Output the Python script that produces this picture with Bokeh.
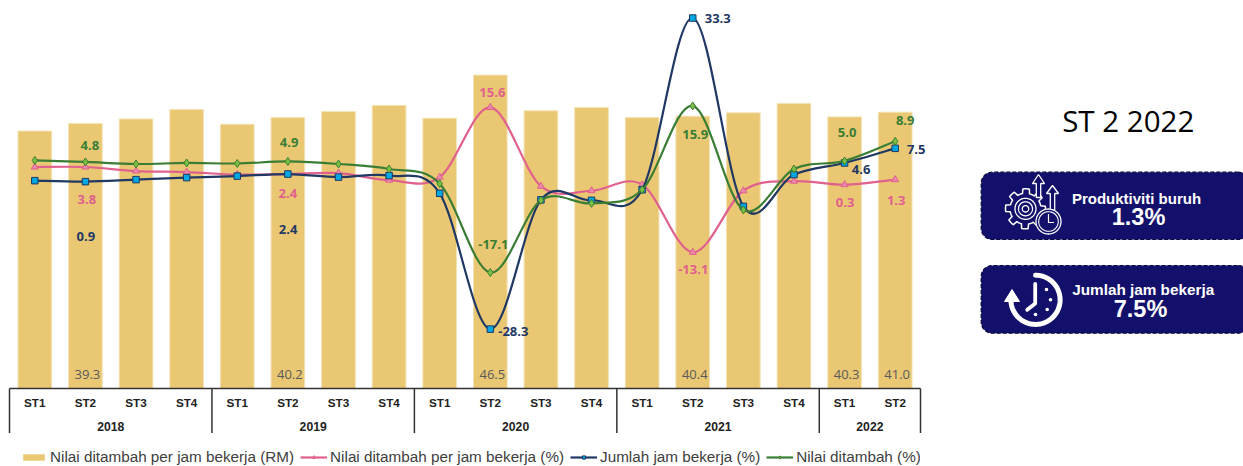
import numpy as np
from bokeh.core.properties import value
from bokeh.embed import file_html
from bokeh.layouts import column, row
from bokeh.models import ColumnDataSource, FactorRange, Legend, LegendItem, Range1d
from bokeh.plotting import figure
from bokeh.resources import INLINE

years = ["2018"] * 4 + ["2019"] * 4 + ["2020"] * 4 + ["2021"] * 4 + ["2022"] * 2
quarters = ["ST1", "ST2", "ST3", "ST4"] * 4 + ["ST1", "ST2"]
rm_value = [38.2, 39.3, 40.0, 41.4, 39.2, 40.2, 41.1, 42.0, 40.1, 46.5, 41.2, 41.7, 40.2, 40.4, 40.9, 42.3, 40.3, 41.0]
productivity = [3.8, 3.8, 3.0, 2.8, 2.3, 2.4, 2.6, 1.2, 1.8, 15.6, 0.0, -0.9, 0.3, -13.1, -0.9, 1.0, 0.3, 1.3]
hours = [1.1, 0.9, 1.3, 1.7, 2.0, 2.4, 1.8, 2.1, -1.4, -28.3, -2.7, -2.8, -0.7, 33.3, -4.0, 2.3, 4.6, 7.5]
added = [5.1, 4.8, 4.4, 4.6, 4.5, 4.9, 4.4, 3.4, 0.5, -17.1, -2.8, -3.4, -0.7, 15.9, -4.7, 3.4, 5.0, 8.9]

labelled = [1, 5, 9, 13, 16, 17]
group_edges = [0, 4, 8, 12, 16, 18]
group_names = ["2018", "2019", "2020", "2021", "2022"]

prod_off = [(1.4, 32), (0, 19.4), (2, -15), (0.5, 17), (0.5, 18), (1, 21)]
hours_off = [(0.4, 54.5), (0.3, 55.4), (23, 2.4), (25, 0.5), (16.5, 6.5), (21, 1)]
added_off = [(4.4, -16.5), (1.3, -19), (3, -28), (2.5, 28.6), (2.5, -28.5), (10, -20.8)]

GOLD, PINK, NAVY, GREEN = "#EAC873", "#E0608E", "#1F3864", "#3A7D34"
PINK_FILL, NAVY_FILL, GREEN_FILL = "#E889AE", "#00A7E1", "#7CC142"
BASE, AXIS_H, PAGE_H, SPLIT = 388, 45, 466, 936

factors = list(zip(years, quarters))
x_range = FactorRange(*factors, factor_padding=0, group_padding=0, subgroup_padding=0, range_padding=0)

p = figure(width=SPLIT, height=BASE + AXIS_H, x_range=x_range, y_range=Range1d(0, BASE / 6.74),
           output_backend="svg", toolbar_location=None, min_border_left=9, min_border_right=16,
           min_border_top=0, min_border_bottom=AXIS_H, outline_line_color=None)
p.extra_y_ranges["pct"] = Range1d((185.7 - BASE) / 5.05, 185.7 / 5.05)
p.grid.visible = False
p.yaxis.visible = False
ax = p.xaxis[0]
ax.axis_line_color = "#333333"
ax.axis_line_width = 1.5
ax.major_tick_line_color = None
ax.minor_tick_line_color = None
ax.major_label_text_font = "Liberation Sans"
ax.major_label_text_font_size = "11.7px"
ax.major_label_text_font_style = "bold"
ax.major_label_text_color = "#222222"
ax.major_label_standoff = 1
ax.group_text_color = None
ax.separator_line_color = None

p.vbar(x=factors, top=rm_value, width=0.665, fill_color=GOLD, line_color="#F3E2B4", line_width=1)


def bezier(values):
    xs = np.arange(len(values)) + 0.5
    ys = np.array(values, dtype=float)
    n = len(ys)
    prev_i = np.maximum(np.arange(n) - 1, 0)
    next_i = np.minimum(np.arange(n) + 1, n - 1)
    tx = (xs[next_i] - xs[prev_i]) / 6
    ty = (ys[next_i] - ys[prev_i]) / 6
    return dict(x0=xs[:-1], y0=ys[:-1], x1=xs[1:], y1=ys[1:],
                cx0=xs[:-1] + tx[:-1], cy0=ys[:-1] + ty[:-1],
                cx1=xs[1:] - tx[1:], cy1=ys[1:] - ty[1:])


def series(values, colour, marker, size, fill):
    p.bezier(x0="x0", y0="y0", x1="x1", y1="y1", cx0="cx0", cy0="cy0", cx1="cx1", cy1="cy1",
             source=ColumnDataSource(bezier(values)), line_color=colour, line_width=2.2, y_range_name="pct")
    p.scatter(x=factors, y=values, marker=marker, size=size, fill_color=fill, line_color=colour,
              line_width=1, y_range_name="pct")


series(productivity, PINK, "triangle", 7, PINK_FILL)
series(hours, NAVY, "square", 6.5, NAVY_FILL)
series(added, GREEN, "diamond", 8, GREEN_FILL)


def labels(vals, offs, colour):
    p.text(x=[factors[i] for i in labelled], y=[vals[i] for i in labelled], text=[f"{vals[i]:.1f}" for i in labelled],
           x_offset=[o[0] for o in offs], y_offset=[o[1] for o in offs], text_color=colour,
           text_font=value("Open Sans"), text_font_size="13px", text_font_style="bold",
           text_align="center", text_baseline="middle", y_range_name="pct", level="overlay")


labels(productivity, prod_off, PINK)
labels(hours, hours_off, NAVY)
labels(added, added_off, GREEN)
p.text(x=[factors[i] for i in labelled], y=[0] * len(labelled),
       text=[f"{rm_value[i]:.1f}" for i in labelled], x_offset=2, y_offset=-14, text_color="#595959",
       text_font=value("Open Sans"), text_font_size="13px", text_align="center", text_baseline="middle")

p.segment(x0=group_edges, x1=group_edges, y0=[0] * len(group_edges), y1=[-AXIS_H / 6.74] * len(group_edges),
          line_color="#333333", line_width=1.5, level="overlay")
p.text(x=[(a + b) / 2 for a, b in zip(group_edges[:-1], group_edges[1:])], y=[0] * len(group_names), text=group_names,
       y_offset=38, text_color="#222222", text_font=value("Liberation Sans"), text_font_size="12.2px",
       text_font_style="bold", text_align="center", text_baseline="middle", level="overlay")

# Legend strip under the chart
k = figure(width=SPLIT, height=PAGE_H - BASE - AXIS_H, x_range=Range1d(0, SPLIT), y_range=Range1d(0, 33),
           output_backend="svg", toolbar_location=None, min_border=0, outline_line_color=None)
k.axis.visible = False
k.grid.visible = False


def key(colour, marker, size, fill):
    return [k.line([-99, -98], [-99, -99], line_color=colour, line_width=2.2),
            k.scatter([-99], [-99], marker=marker, size=size, fill_color=fill, line_color=colour, line_width=1)]


legend = Legend(items=[LegendItem(label="Nilai ditambah per jam bekerja (RM)", renderers=[k.vbar(x=[-99], top=[-99], fill_color=GOLD, line_color=None)]),
                       LegendItem(label="Nilai ditambah per jam bekerja (%)", renderers=key(PINK, "triangle", 7, PINK_FILL)),
                       LegendItem(label="Jumlah jam bekerja (%)", renderers=key(NAVY, "square", 6.5, NAVY_FILL)),
                       LegendItem(label="Nilai ditambah (%)", renderers=key(GREEN, "diamond", 8, GREEN_FILL))],
                orientation="horizontal", location=(11, 1), margin=0, padding=0, border_line_color=None,
                background_fill_alpha=0, label_text_font="Liberation Sans", label_text_font_size="15.25px",
                label_text_color="#404040", glyph_width=27, glyph_height=8, label_standoff=3, spacing=6)
k.add_layout(legend, "center")

# Right-hand summary panel, drawn in page pixels
q = figure(width=1243 - SPLIT, height=PAGE_H, x_range=Range1d(SPLIT, 1243), y_range=Range1d(PAGE_H, 0),
           output_backend="svg", toolbar_location=None, min_border=0, outline_line_color=None)
q.axis.visible = False
q.grid.visible = False
INK, WHITE = "#13106B", "#FFFFFF"


def rounded(x0, y0, x1, y1, r):
    t = np.linspace(0, np.pi / 2, 8)
    xs = np.r_[x1 - r + r * np.sin(t), x1 - r + r * np.cos(t), x0 + r - r * np.sin(t), x0 + r - r * np.cos(t)]
    ys = np.r_[y0 + r - r * np.cos(t), y1 - r + r * np.sin(t), y1 - r + r * np.cos(t), y0 + r - r * np.sin(t)]
    return xs, ys


def text(x, y, s, size, font="Liberation Sans", style="bold", colour=WHITE):
    q.text(x=[x], y=[y], text=[s], text_font=value(font), text_font_size=size, text_font_style=style,
           text_color=colour, text_align="center", text_baseline="middle")


def arc(cx, cy, r, a0, a1, width, colour=WHITE):
    t = np.radians(np.linspace(a0, a1, 80))
    q.line(cx + r * np.cos(t), cy + r * np.sin(t), line_color=colour, line_width=width, line_cap="round")


def polyline(xs, ys, width=1.5):
    q.line(xs, ys, line_color=WHITE, line_width=width, line_cap="round", line_join="round")


def arrow(x, top, head, bottom):
    q.patch([x, x + 6, x + 2.2, x + 2.2, x - 2.2, x - 2.2, x - 6], [top, head, head, bottom, bottom, head, head],
            fill_color=INK, line_color=WHITE, line_width=1.3)


text(1127.7, 120.3, "ST 2 2022", "29.5px", "Open Sans", "normal", "#000000")
for y0, y1 in [(171.7, 239.0), (265.0, 332.7)]:
    xs, ys = rounded(980.7, y0, 1249, y1, 11)
    q.patch(xs, ys, fill_color=INK, line_color="#08083A", line_width=1.2, line_dash="4 2")

text(1136, 198, "Produktiviti buruh", "15px")
text(1138, 216, "1.3%", "23.5px")
text(1142.7, 289, "Jumlah jam bekerja", "15.3px")
text(1140, 308, "7.5%", "23.5px")

# Gear with arrows and a small clock
cx, cy = 1025.0, 208.3
deg = np.linspace(0, 360, 97)
ang = np.radians(deg)
phase = ((deg + 11) % 45) / 45
rad = np.where(phase < 0.5, 20.0, 15.5)
polyline(cx + rad * np.cos(ang), cy + rad * np.sin(ang))
for r in (10.5, 7, 3.2):
    arc(cx, cy, r, 0, 360, 1.3)
arrow(1038, 174, 183, 197)
arrow(1052, 185, 193, 210)
t = np.radians(np.linspace(0, 360, 50))
q.patch(1048 + 13 * np.cos(t), 221 + 13 * np.sin(t), fill_color=INK, line_color=None)
arc(1048, 221, 12.5, 0, 360, 1.3)
arc(1048, 221, 9.8, 0, 360, 1.1)
polyline([1048, 1048, 1053], [214, 222, 222], 1.2)

# Clock with return arrow
arc(1035, 299.3, 24.6, -90, 178, 5)
q.patch([1004, 1019, 1011.5], [301, 301, 289], fill_color=WHITE, line_color=WHITE, line_width=1)
polyline([1034.7, 1034.7, 1026.7], [283.3, 303, 309.3], 3.8)
q.scatter([1046, 1050, 1046.7, 1035], [289, 299.3, 309, 314], size=3.6, marker="circle", fill_color=WHITE, line_color=None)

open("out.html", "w").write(file_html(row(column(p, k, spacing=0), q, spacing=0), INLINE))
